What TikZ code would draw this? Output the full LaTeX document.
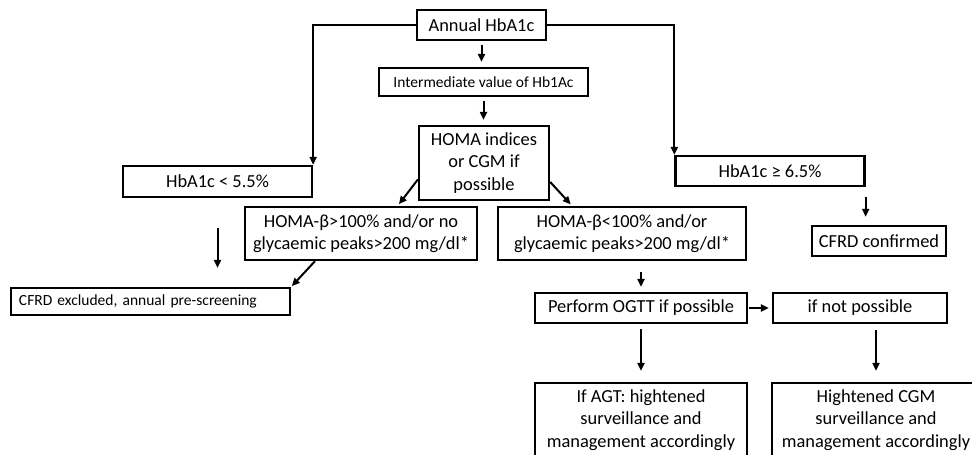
\documentclass[tikz,border=0pt]{standalone}
\usepackage{fontspec}
\setmainfont{Carlito}
\usepackage{tikz}
\usetikzlibrary{arrows.meta,positioning,calc}
\tikzset{
  box/.style={draw, rectangle, line width=2.3pt, align=center, inner sep=0pt,
    font=\fontsize{18.4}{22.5}\selectfont},
  sbox/.style={box, font=\fontsize{15.5}{19}\selectfont},
  arr/.style={-{Triangle[length=8pt,width=7pt]}, line width=2pt},
  gap/.style={shorten <=4pt, shorten >=5pt}
}
\begin{document}
\begin{tikzpicture}[x=1pt,y=-1pt]
\useasboundingbox (0,0) rectangle (972,455);
\clip (0,0) rectangle (972,455);
% top of the chart
\node[box, minimum width=129, minimum height=30] (ann) at (481.5,25) {Annual HbA1c};
\node[sbox, minimum width=209, minimum height=28] (mid) at (483.5,82) {Intermediate value of Hb1Ac};
\node[box, minimum width=130, minimum height=74] (homa) at (484,163) {HOMA indices\\or CGM if\\possible};
\node[box, minimum width=189, minimum height=31] (lo) at (217.5,181.5) {HbA1c < 5.5\%};
\node[box, minimum width=189, minimum height=30] (hi) at (770,171) {HbA1c ≥ 6.5\%};
\node[box, minimum width=232, minimum height=53] (ple) at (361,233.5) {HOMA-β>100\% and/or no\\glycaemic peaks>200 mg/dl*};
\node[box, minimum width=248, minimum height=53] (plt) at (622,233.5) {HOMA-β<100\% and/or\\glycaemic peaks>200 mg/dl*};
\node[box, minimum width=134, minimum height=30] (conf) at (879,241) {CFRD confirmed};
\node[sbox, minimum height=27, text width=263, inner xsep=8pt, align=left] (excl) at (150.5,301.5) {CFRD excluded, annual pre-screening};
% lower part
\node[box, minimum width=212, minimum height=30] (ogtt) at (641,308) {Perform OGTT if possible};
\node[box, minimum width=174, minimum height=30] (notp) at (860,308) {if not possible};
\node[box, minimum width=212, minimum height=74] (agt) at (641,420) {If AGT: hightened\\surveillance and\\management accordingly};
\node[box, minimum width=208, minimum height=74] (cgm) at (876,420) {Hightened CGM\\surveillance and\\management accordingly};

\draw[arr] (ann.west) -| (lo.north east);
\draw[arr] (ann.east) -| (hi.north west);
\draw[arr, gap] (ann.south) -- (ann.south |- mid.north);
\draw[arr, gap] (mid.south) -- (mid.south |- homa.north);
\draw[arr, shorten >=2pt] (homa.194) -- (ple.37);
\draw[arr, shorten >=2pt] (homa.344) -- (plt.151);
\draw[arr, shorten >=1pt] (ple.211) -- (excl.north east);
\draw[arr, shorten <=30pt, shorten >=19pt] (lo.south) -- (lo.south |- excl.north);
\draw[arr, shorten <=10pt, shorten >=8pt] (hi.south east) -- (hi.south east |- conf.north);
\draw[arr, shorten <=11pt, shorten >=5pt] (ogtt.north |- plt.south) -- (ogtt.north);
\draw[arr, shorten <=1pt, shorten >=3pt] (ogtt.east) -- (notp.west);
\draw[arr, shorten <=5pt, shorten >=11pt] (ogtt.south) -- (agt.north);
\draw[arr, shorten <=6pt, shorten >=11pt] (notp.south -| cgm.north) -- (cgm.north);
\end{tikzpicture}
\end{document}
